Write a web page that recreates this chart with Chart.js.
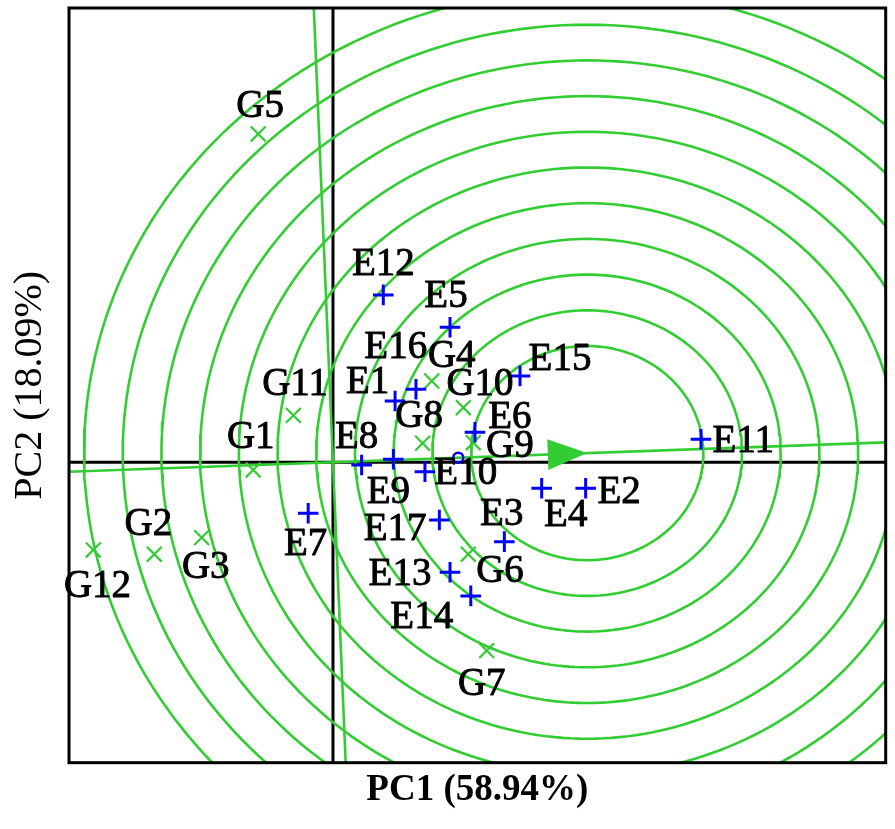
<!DOCTYPE html>
<html><head><meta charset="utf-8">
<script src="https://cdn.jsdelivr.net/npm/chart.js@4.4.1/dist/chart.umd.min.js"></script>
<style>html,body{margin:0;padding:0;background:#fff;}canvas{display:block;}</style>
</head><body>
<canvas id="c" width="895" height="829"></canvas>
<script>
// ---- data ----
const genotypeNames = ['G1','G2','G3','G4','G5','G6','G7','G8','G9','G10','G11','G12'];
const genotypePC1 = [-0.515,-1.154,-0.848,0.638,-0.483,0.874,0.993,0.579,0.906,0.842,-0.256,-1.548];
const genotypePC2 = [-0.054,-0.644,-0.528,0.569,2.299,-0.644,-1.319,0.133,0.137,0.382,0.328,-0.614];

const environmentNames = ['E1','E2','E3','E4','E5','E6','E7','E8','E9','E10','E11','E12','E13','E14','E15','E16','E17'];
const environmentPC1 = [0.401,1.632,1.107,1.348,0.756,0.917,-0.160,0.185,0.390,0.594,2.377,0.325,0.756,0.890,1.208,0.536,0.687];
const environmentPC2 = [0.429,-0.182,-0.556,-0.182,0.945,0.210,-0.357,-0.019,0.021,-0.066,0.161,1.172,-0.770,-0.936,0.604,0.511,-0.404];

const averageEnvironment = [0.809, 0.032];
const idealPoint = [1.642, 0.064];
const ringRadii = [0.75,1.00,1.25,1.50,1.75,2.00,2.25,2.50,2.75,3.00,3.25];

const xRange = [-1.705, 3.570];
const yRange = [-2.104, 3.181];
const axisTitleX = 'PC1 (58.94%)';
const axisTitleY = 'PC2 (18.09%)';

// ---- styles ----
const GREEN = '#32CD32';
const BLUE = '#0000FF';
const labelOffsets = {
  G1:[-2.5,-21.7], G2:[-6,-19.3], G3:[4.1,40.6], G4:[20,-14.3], G5:[2,-16.7], G6:[31.7,27.4],
  G7:[-5,44.3], G8:[-3.5,-16.6], G9:[36.7,14], G10:[16.7,-12.7], G11:[1.7,-20], G12:[4.2,46.7],
  E1:[-27.5,-7.7], E2:[33.5,15], E3:[-2.6,-16.7], E4:[24.1,37.7], E5:[-4,-20.6], E6:[35,-4],
  E7:[-2.5,41.7], E8:[-5,-16.7], E9:[-5,44], E10:[40.8,12.3], E11:[42.3,12.4], E12:[0,-20],
  E13:[-50,12.7], E14:[-49,32.3], E15:[40,-6], E16:[-20.2,-31], E17:[-44.3,20]
};

// ---- derived geometry ----
const aeaSlope = idealPoint[1] / idealPoint[0];
function ring(r) {
  const pts = [];
  const n = 240;
  for (let i = 0; i <= n; i++) {
    const t = i / n * Math.PI * 2;
    pts.push({x: idealPoint[0] + r * Math.cos(t), y: idealPoint[1] + r * Math.sin(t)});
  }
  return pts;
}

const lineBase = {type:'scatter', showLine:true, pointRadius:0, pointHoverRadius:0, fill:false, tension:0, clip:0};
const LW = 2.6;

const datasets = [];
datasets.push({
  label:'Environments', labelsList: environmentNames,
  data: environmentNames.map((n,i)=>({x:environmentPC1[i], y:environmentPC2[i]})),
  pointStyle:'cross', pointRadius:10.3, pointBorderWidth:3, borderColor:BLUE, backgroundColor:BLUE, showLine:false
});
datasets.push({
  label:'Genotypes', labelsList: genotypeNames,
  data: genotypeNames.map((n,i)=>({x:genotypePC1[i], y:genotypePC2[i]})),
  pointStyle:'crossRot', pointRadius:10.5, pointBorderWidth:2.2, borderColor:GREEN, backgroundColor:GREEN, showLine:false
});
datasets.push({
  label:'Average environment',
  data:[{x:averageEnvironment[0], y:averageEnvironment[1]}],
  pointStyle:'circle', pointRadius:5, pointBorderWidth:2.5, borderColor:BLUE, backgroundColor:'rgba(0,0,0,0)', showLine:false
});
datasets.push(Object.assign({}, lineBase, {
  label:'AEA', borderColor:GREEN, borderWidth:LW,
  data:[{x:xRange[0], y:aeaSlope*xRange[0]},{x:xRange[1], y:aeaSlope*xRange[1]}]
}));
datasets.push(Object.assign({}, lineBase, {
  label:'AEA perpendicular', borderColor:GREEN, borderWidth:LW,
  data:[{x:-aeaSlope*yRange[0], y:yRange[0]},{x:-aeaSlope*yRange[1], y:yRange[1]}]
}));
ringRadii.forEach(r => datasets.push(Object.assign({}, lineBase, {
  label:'ring '+r, borderColor:GREEN, borderWidth:LW, data:ring(r)
})));
datasets.push(Object.assign({}, lineBase, {
  label:'x axis', borderColor:'#000', borderWidth:3,
  data:[{x:xRange[0], y:0},{x:xRange[1], y:0}]
}));
datasets.push(Object.assign({}, lineBase, {
  label:'y axis', borderColor:'#000', borderWidth:3,
  data:[{x:0, y:yRange[0]},{x:0, y:yRange[1]}]
}));

const biplotPlugin = {
  id:'biplot',
  afterDatasetsDraw(chart) {
    const ctx = chart.ctx;
    const xs = chart.scales.x, ys = chart.scales.y;
    const a = chart.chartArea;
    ctx.save();
    // arrow head at ideal point along AEA
    const ox = xs.getPixelForValue(0), oy = ys.getPixelForValue(0);
    const tx = xs.getPixelForValue(idealPoint[0]), ty = ys.getPixelForValue(idealPoint[1]);
    let dx = tx - ox, dy = ty - oy;
    const len = Math.hypot(dx, dy); dx /= len; dy /= len;
    const L = 39.4, W = 15.4;
    const bx = tx - dx * L, by = ty - dy * L;
    ctx.fillStyle = GREEN;
    ctx.beginPath();
    ctx.moveTo(tx, ty);
    ctx.lineTo(bx - dy * W, by + dx * W);
    ctx.lineTo(bx + dy * W, by - dx * W);
    ctx.closePath();
    ctx.fill();
    // frame
    ctx.strokeStyle = '#000';
    ctx.lineWidth = 3;
    ctx.strokeRect(a.left, a.top, a.right - a.left, a.bottom - a.top);
    // labels
    ctx.fillStyle = '#000';
    ctx.strokeStyle = '#000';
    ctx.lineWidth = 0.9;
    ctx.lineJoin = 'round';
    ctx.font = '39px "Liberation Serif"';
    ctx.textAlign = 'center';
    ctx.textBaseline = 'alphabetic';
    chart.data.datasets.forEach((ds, di) => {
      if (!ds.labelsList) return;
      const meta = chart.getDatasetMeta(di);
      ds.labelsList.forEach((name, i) => {
        const p = meta.data[i];
        const off = labelOffsets[name] || [0, -15];
        ctx.fillText(name, p.x + off[0], p.y + off[1]);
        ctx.strokeText(name, p.x + off[0], p.y + off[1]);
      });
    });
    ctx.restore();
  }
};

new Chart(document.getElementById('c'), {
  type:'scatter',
  data:{datasets},
  options:{
    responsive:false, animation:false, devicePixelRatio:1,
    layout:{autoPadding:false, padding:{left:0, right:9.3, top:8, bottom:0}},
    plugins:{legend:{display:false}, tooltip:{enabled:false}},
    events:[],
    scales:{
      x:{type:'linear', min:xRange[0], max:xRange[1], bounds:'data',
         ticks:{display:false}, grid:{display:false, drawTicks:false}, border:{display:false},
         title:{display:true, text:axisTitleX, color:'#000',
                font:{family:'Liberation Serif', size:37, weight:'bold', lineHeight:1},
                padding:{top:9.6, bottom:19.7}}},
      y:{type:'linear', min:yRange[0], max:yRange[1], bounds:'data',
         ticks:{display:false}, grid:{display:false, drawTicks:false}, border:{display:false},
         title:{display:true, text:axisTitleY, color:'#000',
                font:{family:'Liberation Serif', size:40, weight:'normal', lineHeight:1},
                padding:{top:10.8, bottom:18.2}}}
    }
  },
  plugins:[biplotPlugin]
});
</script>
</body></html>
